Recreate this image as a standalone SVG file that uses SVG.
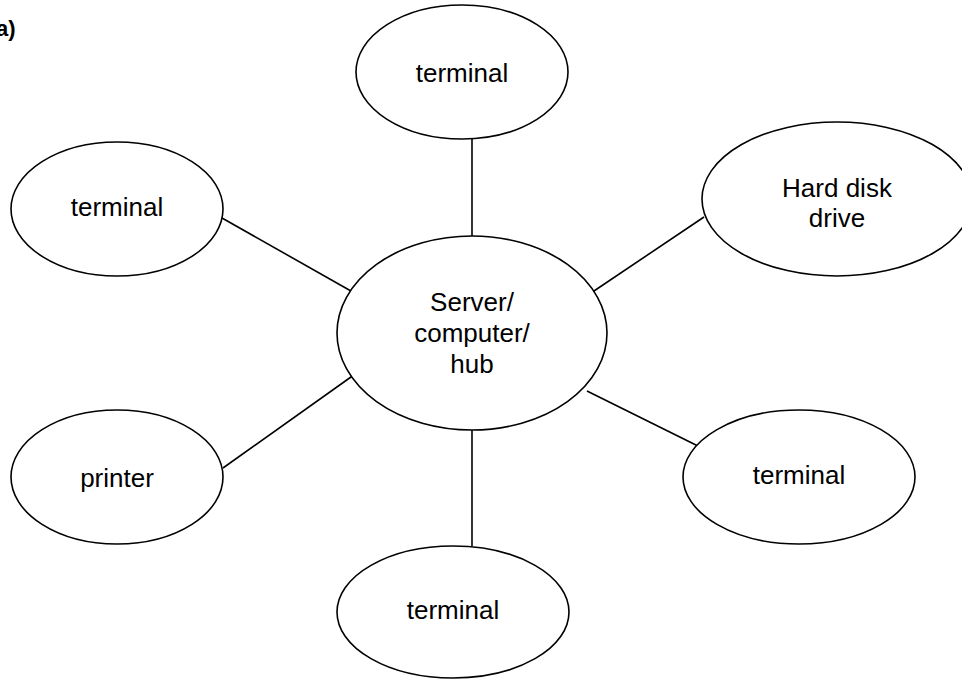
<svg xmlns="http://www.w3.org/2000/svg" width="962" height="680" viewBox="0 0 962 680">
<style>
.n{fill:#fff;stroke:#000;stroke-width:1.6}
.c line{stroke:#000;stroke-width:1.6}
text{font-family:"Liberation Sans",Arial,sans-serif;font-size:26px;fill:#000;text-anchor:middle}
.lbl{font-weight:bold;font-size:22px;text-anchor:start}
</style>
<rect width="962" height="680" fill="#fff"/>
<text class="lbl" x="-4" y="36">a)</text>
<g id="connectors" class="c">
<line x1="472" y1="139" x2="472" y2="237"/>
<line x1="222" y1="218" x2="358" y2="295"/>
<line x1="704" y1="217" x2="588" y2="295"/>
<line x1="223" y1="468" x2="358" y2="372"/>
<line x1="587" y1="391" x2="704" y2="449"/>
<line x1="472" y1="430" x2="472" y2="546"/>
</g>
<g id="top-terminal"><ellipse class="n" cx="462" cy="72" rx="106" ry="67"/><text x="462" y="82">terminal</text></g>
<g id="left-terminal"><ellipse class="n" cx="117" cy="209" rx="106" ry="67"/><text x="117" y="216">terminal</text></g>
<g id="hard-disk"><ellipse class="n" cx="837" cy="199" rx="135" ry="77"/><text x="837" y="197">Hard disk</text><text x="837" y="227">drive</text></g>
<g id="server"><ellipse class="n" cx="472" cy="333" rx="135" ry="97"/><text x="472" y="311">Server/</text><text x="472" y="342">computer/</text><text x="472" y="373">hub</text></g>
<g id="printer"><ellipse class="n" cx="117" cy="477" rx="106" ry="67"/><text x="117" y="487">printer</text></g>
<g id="right-terminal"><ellipse class="n" cx="799" cy="477" rx="116" ry="67"/><text x="799" y="484">terminal</text></g>
<g id="bottom-terminal"><ellipse class="n" cx="453" cy="612" rx="116" ry="66"/><text x="453" y="619">terminal</text></g>
</svg>
